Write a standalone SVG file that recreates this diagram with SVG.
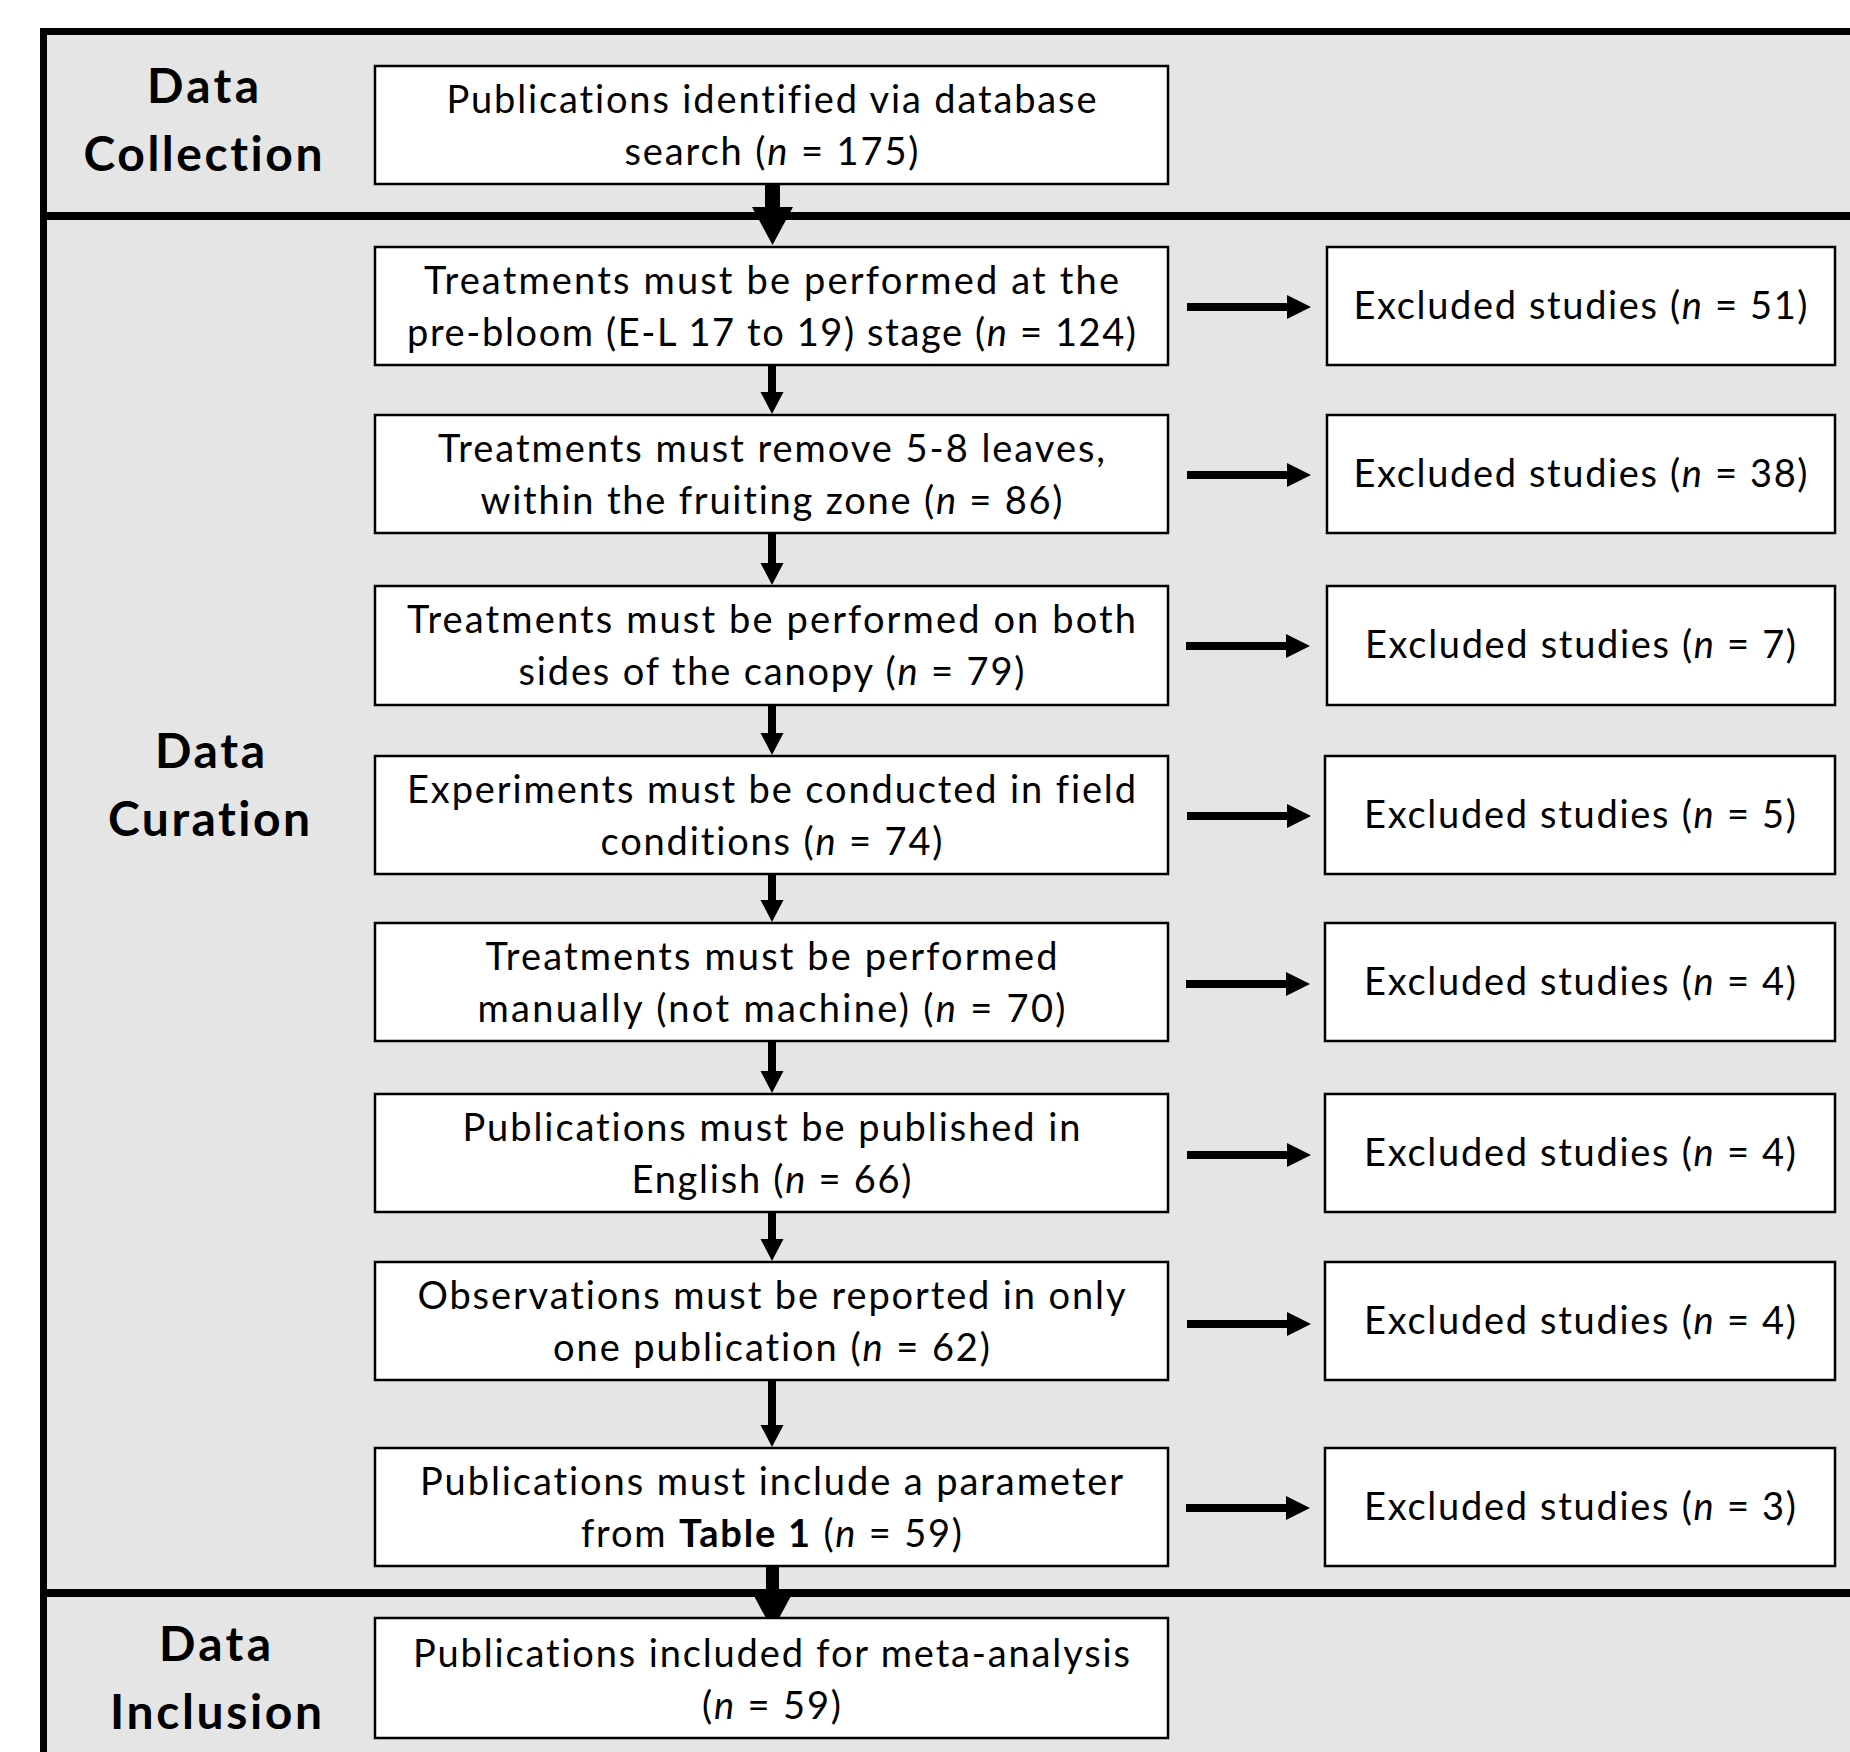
<svg xmlns="http://www.w3.org/2000/svg" width="1850" height="1752" viewBox="0 0 1850 1752">
<style>
.bg{fill:#e5e5e5;stroke:#000;stroke-width:7}
.div{stroke:#000;stroke-width:8}
.box{fill:#fff;stroke:#000;stroke-width:2.5}
.t{font-family:Lato,"Open Sans","Liberation Sans",sans-serif;font-size:38px;fill:#000;text-anchor:middle;font-variant-ligatures:none;font-feature-settings:"liga" 0,"clig" 0}
.lab{font-family:Lato,"Open Sans","Liberation Sans",sans-serif;font-size:48px;font-weight:bold;fill:#000;text-anchor:middle;font-variant-ligatures:none;font-feature-settings:"liga" 0,"clig" 0}
.i{font-style:italic}
.b{font-weight:bold}
.stem{stroke:#000;stroke-width:8}
.ah{fill:#000}
</style>
<rect x="0" y="0" width="1850" height="1752" fill="#fff"/>
<rect class="bg" x="43.5" y="31.5" width="1850" height="1800"/>
<line class="div" x1="40" y1="216" x2="1850" y2="216"/>
<line class="div" x1="40" y1="1593" x2="1850" y2="1593"/>

<g id="label-collection">
<text class="lab" x="203" y="103" textLength="112" lengthAdjust="spacing">Data</text>
<text class="lab" x="203" y="171" textLength="239" lengthAdjust="spacing">Collection</text>
</g>
<g id="label-curation">
<text class="lab" x="210" y="768" textLength="110" lengthAdjust="spacing">Data</text>
<text class="lab" x="209" y="836" textLength="202" lengthAdjust="spacing">Curation</text>
</g>
<g id="label-inclusion">
<text class="lab" x="215" y="1661" textLength="112" lengthAdjust="spacing">Data</text>
<text class="lab" x="216" y="1729" textLength="212" lengthAdjust="spacing">Inclusion</text>
</g>

<g id="connectors">
<rect x="765" y="183" width="15" height="26" fill="#000"/>
<polygon class="ah" points="752,207 793,207 772.5,245"/>
<rect x="766" y="1566" width="13" height="32" fill="#000"/>
<polygon class="ah" points="754,1596 791,1596 772.5,1630"/>
<line class="stem" x1="772" y1="365" x2="772" y2="394"/><polygon class="ah" points="760.5,392 783.5,392 772,414"/>
<line class="stem" x1="772" y1="533" x2="772" y2="565"/><polygon class="ah" points="760.5,563 783.5,563 772,585"/>
<line class="stem" x1="772" y1="704" x2="772" y2="735"/><polygon class="ah" points="760.5,733 783.5,733 772,755"/>
<line class="stem" x1="772" y1="874" x2="772" y2="902"/><polygon class="ah" points="760.5,900 783.5,900 772,922"/>
<line class="stem" x1="772" y1="1041" x2="772" y2="1073"/><polygon class="ah" points="760.5,1071 783.5,1071 772,1093"/>
<line class="stem" x1="772" y1="1212" x2="772" y2="1241"/><polygon class="ah" points="760.5,1239 783.5,1239 772,1261"/>
<line class="stem" x1="772" y1="1380" x2="772" y2="1427"/><polygon class="ah" points="760.5,1425 783.5,1425 772,1447"/>

<line class="stem" x1="1187" y1="307" x2="1289" y2="307"/><polygon class="ah" points="1287,295 1287,319 1311,307"/>
<line class="stem" x1="1187" y1="475" x2="1289" y2="475"/><polygon class="ah" points="1287,463 1287,487 1311,475"/>
<line class="stem" x1="1186" y1="646" x2="1288" y2="646"/><polygon class="ah" points="1286,634 1286,658 1310,646"/>
<line class="stem" x1="1187" y1="816" x2="1289" y2="816"/><polygon class="ah" points="1287,804 1287,828 1311,816"/>
<line class="stem" x1="1186" y1="984" x2="1288" y2="984"/><polygon class="ah" points="1286,972 1286,996 1310,984"/>
<line class="stem" x1="1187" y1="1155" x2="1289" y2="1155"/><polygon class="ah" points="1287,1143 1287,1167 1311,1155"/>
<line class="stem" x1="1187" y1="1324" x2="1289" y2="1324"/><polygon class="ah" points="1287,1312 1287,1336 1311,1324"/>
<line class="stem" x1="1186" y1="1508" x2="1288" y2="1508"/><polygon class="ah" points="1286,1496 1286,1520 1310,1508"/>
</g>

<g id="n1">
<rect class="box" x="375" y="66" width="793" height="118"/>
<text class="t" x="771.5" y="113" textLength="650" lengthAdjust="spacing">Publications identified via database</text>
<text class="t" x="771.5" y="165" textLength="294" lengthAdjust="spacing">search (<tspan class="i">n</tspan> = 175)</text>
</g>
<g id="n2">
<rect class="box" x="375" y="247" width="793" height="118"/>
<text class="t" x="771.5" y="294" textLength="695" lengthAdjust="spacing">Treatments must be performed at the</text>
<text class="t" x="771.5" y="346" textLength="729" lengthAdjust="spacing">pre-bloom (E-L 17 to 19) stage (<tspan class="i">n</tspan> = 124)</text>
</g>
<g id="n3">
<rect class="box" x="375" y="415" width="793" height="118"/>
<text class="t" x="771.5" y="462" textLength="667" lengthAdjust="spacing">Treatments must remove 5-8 leaves,</text>
<text class="t" x="771.5" y="514" textLength="582" lengthAdjust="spacing">within the fruiting zone (<tspan class="i">n</tspan> = 86)</text>
</g>
<g id="n4">
<rect class="box" x="375" y="586" width="793" height="119"/>
<text class="t" x="771.5" y="633" textLength="729" lengthAdjust="spacing">Treatments must be performed on both</text>
<text class="t" x="771.5" y="685" textLength="506" lengthAdjust="spacing">sides of the canopy (<tspan class="i">n</tspan> = 79)</text>
</g>
<g id="n5">
<rect class="box" x="375" y="756" width="793" height="118"/>
<text class="t" x="771.5" y="803" textLength="729" lengthAdjust="spacing">Experiments must be conducted in field</text>
<text class="t" x="771.5" y="855" textLength="342" lengthAdjust="spacing">conditions (<tspan class="i">n</tspan> = 74)</text>
</g>
<g id="n6">
<rect class="box" x="375" y="923" width="793" height="118"/>
<text class="t" x="771.5" y="970" textLength="572" lengthAdjust="spacing">Treatments must be performed</text>
<text class="t" x="771.5" y="1022" textLength="588" lengthAdjust="spacing">manually (not machine) (<tspan class="i">n</tspan> = 70)</text>
</g>
<g id="n7">
<rect class="box" x="375" y="1094" width="793" height="118"/>
<text class="t" x="771.5" y="1141" textLength="618" lengthAdjust="spacing">Publications must be published in</text>
<text class="t" x="771.5" y="1193" textLength="280" lengthAdjust="spacing">English (<tspan class="i">n</tspan> = 66)</text>
</g>
<g id="n8">
<rect class="box" x="375" y="1262" width="793" height="118"/>
<text class="t" x="771.5" y="1309" textLength="708" lengthAdjust="spacing">Observations must be reported in only</text>
<text class="t" x="771.5" y="1361" textLength="437" lengthAdjust="spacing">one publication (<tspan class="i">n</tspan> = 62)</text>
</g>
<g id="n9">
<rect class="box" x="375" y="1448" width="793" height="118"/>
<text class="t" x="771.5" y="1495" textLength="703" lengthAdjust="spacing">Publications must include a parameter</text>
<text class="t" x="771.5" y="1547" textLength="381" lengthAdjust="spacing">from <tspan class="b">Table 1</tspan> (<tspan class="i">n</tspan> = 59)</text>
</g>
<g id="n10">
<rect class="box" x="375" y="1618" width="793" height="120"/>
<text class="t" x="771.5" y="1667" textLength="717" lengthAdjust="spacing">Publications included for meta-analysis</text>
<text class="t" x="771.5" y="1719" textLength="139" lengthAdjust="spacing">(<tspan class="i">n</tspan> = 59)</text>
</g>

<g id="x1">
<rect class="box" x="1327" y="247" width="508" height="118"/>
<text class="t" x="1580.5" y="319" textLength="454" lengthAdjust="spacing">Excluded studies (<tspan class="i">n</tspan> = 51)</text>
</g>
<g id="x2">
<rect class="box" x="1327" y="415" width="508" height="118"/>
<text class="t" x="1580.5" y="487" textLength="454" lengthAdjust="spacing">Excluded studies (<tspan class="i">n</tspan> = 38)</text>
</g>
<g id="x3">
<rect class="box" x="1327" y="586" width="508" height="119"/>
<text class="t" x="1580.5" y="658" textLength="431" lengthAdjust="spacing">Excluded studies (<tspan class="i">n</tspan> = 7)</text>
</g>
<g id="x4">
<rect class="box" x="1325" y="756" width="510" height="118"/>
<text class="t" x="1580" y="828" textLength="432" lengthAdjust="spacing">Excluded studies (<tspan class="i">n</tspan> = 5)</text>
</g>
<g id="x5">
<rect class="box" x="1325" y="923" width="510" height="118"/>
<text class="t" x="1580" y="995" textLength="432" lengthAdjust="spacing">Excluded studies (<tspan class="i">n</tspan> = 4)</text>
</g>
<g id="x6">
<rect class="box" x="1325" y="1094" width="510" height="118"/>
<text class="t" x="1580" y="1166" textLength="432" lengthAdjust="spacing">Excluded studies (<tspan class="i">n</tspan> = 4)</text>
</g>
<g id="x7">
<rect class="box" x="1325" y="1262" width="510" height="118"/>
<text class="t" x="1580" y="1334" textLength="432" lengthAdjust="spacing">Excluded studies (<tspan class="i">n</tspan> = 4)</text>
</g>
<g id="x8">
<rect class="box" x="1325" y="1448" width="510" height="118"/>
<text class="t" x="1580" y="1520" textLength="432" lengthAdjust="spacing">Excluded studies (<tspan class="i">n</tspan> = 3)</text>
</g>
</svg>
